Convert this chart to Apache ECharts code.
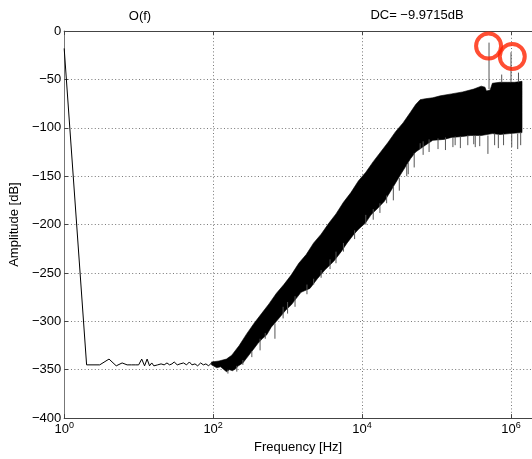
<!DOCTYPE html>
<html><head><meta charset="utf-8">
<script src="https://cdn.jsdelivr.net/npm/echarts@6/dist/echarts.min.js"></script>
<style>html,body{margin:0;padding:0;background:#fff}#c{width:532px;height:459px}</style>
</head><body><div id="c"></div>
<script>
// ---- data ----
const lowFreq = [1,2,3,4,5,6,7,8,9,10,11,12,13,14,15,16,17,18,19,20,22,24,26,28,30,33,36,40,44,48,52,57,62,68,74,80,87,95];
const lowAmp  = [-18,-345,-345,-339,-346,-343,-345,-345,-345,-345,-339,-346,-339,-346,-343,-346,-344,-345,-344,-344,-345,-343,-345,-344,-342,-345,-344,-343,-345,-342,-345,-344,-346,-343,-345,-344,-346,-343];

const bandUpperFreq = [95,120,151,178,224,282,355,447,562,708,891,1122,1413,1778,2239,2818,3548,4467,5623,7079,8913,11220,14125,17783,22387,28184,35481,44668,52481,60256,70795,89125,112202,158489,223872,316228,398107,446684,467735,524807,562341,707946,891251,1122018,1406048];
const bandUpperAmp  = [-342,-341,-339,-335,-325,-313,-302,-292,-282,-271,-262,-252,-240,-231,-219,-210,-199,-189,-177,-167,-155,-146,-135,-125,-115,-104,-95,-84,-76,-71,-70,-69,-67,-65,-63,-60,-57,-58,-62,-61,-54,-53,-53,-53,-52];

const bandLowerFreq = [95,112,126,151,166,182,200,219,251,282,316,355,398,457,525,603,708,955,1122,1318,1514,1995,2512,3162,4169,5248,6310,7586,8913,11220,13183,15849,19953,23988,28184,33113,44668,52481,70795,89125,125893,158489,223872,281838,398107,562341,707946,954993,1406048];
const bandLowerAmp  = [-345,-348,-347,-352,-350,-351,-349,-346,-343,-338,-333,-328,-323,-318,-314,-306,-300,-288,-283,-276,-270,-266,-256,-247,-238,-228,-219,-211,-205,-198,-190,-184,-176,-166,-157,-148,-132,-125,-118,-113,-112,-110,-109,-108,-108,-106,-107,-106,-105];

// thin spikes: frequency, from, to (dB)
const spikeFreq = [158,208,251,331,427,501,676,871,1000,1259,1820,2239,2818,3715,4467,5623,7943,11220,14125,17378,21380,26303,31623,39811,41687,50119,60256,66069,79433,104713,131826,165959,177828,208930,263027,316228,331131,380189,489779,602560,676083,794328,1023293,1230269,1348963,506990,1000000,750000,1260000];
const spikeFrom = [-350,-346,-340,-331,-318,-312,-302,-285,-280,-274,-262,-256,-247,-236,-228,-219,-206,-190,-184,-178,-170,-160,-152,-138,-136,-126,-116,-114,-112,-111,-110,-110,-109,-109,-108,-108,-108,-108,-108,-106,-107,-106,-106,-106,-105,-60,-53,-53,-53];
const spikeTo   = [-354,-352,-345,-337,-330,-318,-318,-297,-292,-285,-272,-262,-255,-246,-240,-228,-215,-200,-195,-188,-178,-175,-165,-150,-148,-141,-122,-128,-125,-122,-123,-120,-118,-121,-118,-117,-120,-119,-127,-118,-121,-118,-120,-122,-118,-12,-22,-45,-43];

// red ring markers
const markerFreq = [5.0e5, 1.04e6];
const markerAmp  = [-15.5, -26.4];

const xTickExp = [0, 2, 4, 6];
const yMin = -400, yMax = 0, yStep = 50;
const titleText = 'O(f)';
const dcText = 'DC= \u22129.9715dB';

// ---- chart ----
const FONT = '"Liberation Sans", Arial, Helvetica, sans-serif';
const lg = Math.log10;
const chart = echarts.init(document.getElementById('c'), null, {renderer: 'canvas'});
const xMaxExp = 6.282;

const axisCommon = {
  type: 'value', min: xTickExp[0], max: xMaxExp, interval: xTickExp[1] - xTickExp[0]
};

chart.setOption({
  animation: false,
  backgroundColor: '#fff',
  textStyle: {fontFamily: FONT},
  grid: {left: 64, right: 0, top: 31, bottom: 40, containLabel: false},
  graphic: [
    {type: 'text', x: 140, y: 16, style: {text: titleText, font: '13px ' + FONT, fill: '#000', textAlign: 'center', textVerticalAlign: 'middle'}},
    {type: 'text', x: 417, y: 15, style: {text: dcText, font: '13px ' + FONT, fill: '#000', textAlign: 'center', textVerticalAlign: 'middle'}}
  ],
  xAxis: [
    Object.assign({}, axisCommon, {
      position: 'bottom',
      name: 'Frequency [Hz]', nameLocation: 'middle', nameGap: 21,
      nameTextStyle: {fontSize: 13, color: '#000', fontFamily: FONT},
      axisLine: {show: true, onZero: false, lineStyle: {color: '#444', width: 1}},
      axisTick: {show: true, inside: true, length: 4, lineStyle: {color: '#444'}},
      axisLabel: {
        show: true, margin: 3, color: '#000',
        formatter: v => '{b|10}{s|' + v + '}',
        rich: {b: {fontSize: 13, fontFamily: FONT, color: '#000', lineHeight: 16}, s: {fontSize: 9, fontFamily: FONT, color: '#000', verticalAlign: 'top', lineHeight: 16, padding: [0, 0, 6, 0]}}
      },
      splitLine: {show: true, lineStyle: {color: '#777', type: [1, 2.4], width: 1}}
    }),
    Object.assign({}, axisCommon, {
      position: 'top',
      axisLine: {show: true, onZero: false, lineStyle: {color: '#444', width: 1}},
      axisTick: {show: true, inside: true, length: 4, lineStyle: {color: '#444'}},
      axisLabel: {show: false},
      splitLine: {show: false}
    })
  ],
  yAxis: {
    type: 'value', min: yMin, max: yMax, interval: yStep,
    name: 'Amplitude [dB]', nameLocation: 'middle', nameGap: 39,
    nameTextStyle: {fontSize: 13, color: '#000', fontFamily: FONT},
    axisLine: {show: true, onZero: false, lineStyle: {color: '#777', width: 1}},
    axisTick: {show: true, inside: true, length: 4, lineStyle: {color: '#444'}},
    axisLabel: {margin: 3, fontSize: 13, color: '#000', fontFamily: FONT, formatter: v => v < 0 ? '\u2212' + (-v) : String(v)},
    splitLine: {show: true, lineStyle: {color: '#777', type: [1, 2.4], width: 1}}
  },
  series: [
    {
      type: 'custom', xAxisIndex: 0, yAxisIndex: 0, silent: true, clip: true,
      data: [[0, 0]],
      renderItem: (params, api) => {
        const pts = [];
        for (let i = 0; i < bandUpperFreq.length; i++) pts.push(api.coord([lg(bandUpperFreq[i]), bandUpperAmp[i]]));
        for (let i = bandLowerFreq.length - 1; i >= 0; i--) pts.push(api.coord([lg(bandLowerFreq[i]), bandLowerAmp[i]]));
        return {type: 'polygon', shape: {points: pts}, style: {fill: '#000', stroke: '#000', lineWidth: 0.6}};
      }
    },
    {
      type: 'custom', xAxisIndex: 0, yAxisIndex: 0, silent: true, clip: true,
      data: spikeFreq.map((f, i) => [lg(f), spikeFrom[i], spikeTo[i]]),
      encode: {x: 0, y: [1, 2]},
      renderItem: (params, api) => {
        const a = api.coord([api.value(0), api.value(1)]);
        const b = api.coord([api.value(0), api.value(2)]);
        return {type: 'line', shape: {x1: a[0], y1: a[1], x2: b[0], y2: b[1]}, style: {stroke: '#555', lineWidth: 1}};
      }
    },
    {
      type: 'line', xAxisIndex: 0, yAxisIndex: 0, silent: true,
      data: lowFreq.map((f, i) => [lg(f), lowAmp[i]]),
      showSymbol: false, symbol: 'none',
      lineStyle: {color: '#000', width: 1}
    },
    {
      type: 'scatter', xAxisIndex: 0, yAxisIndex: 0, silent: true,
      data: markerFreq.map((f, i) => [lg(f), markerAmp[i]]),
      symbol: 'circle', symbolSize: 25,
      itemStyle: {color: 'rgba(0,0,0,0)', borderColor: '#ff2200', borderWidth: 4}
    }
  ]
});
</script></body></html>
